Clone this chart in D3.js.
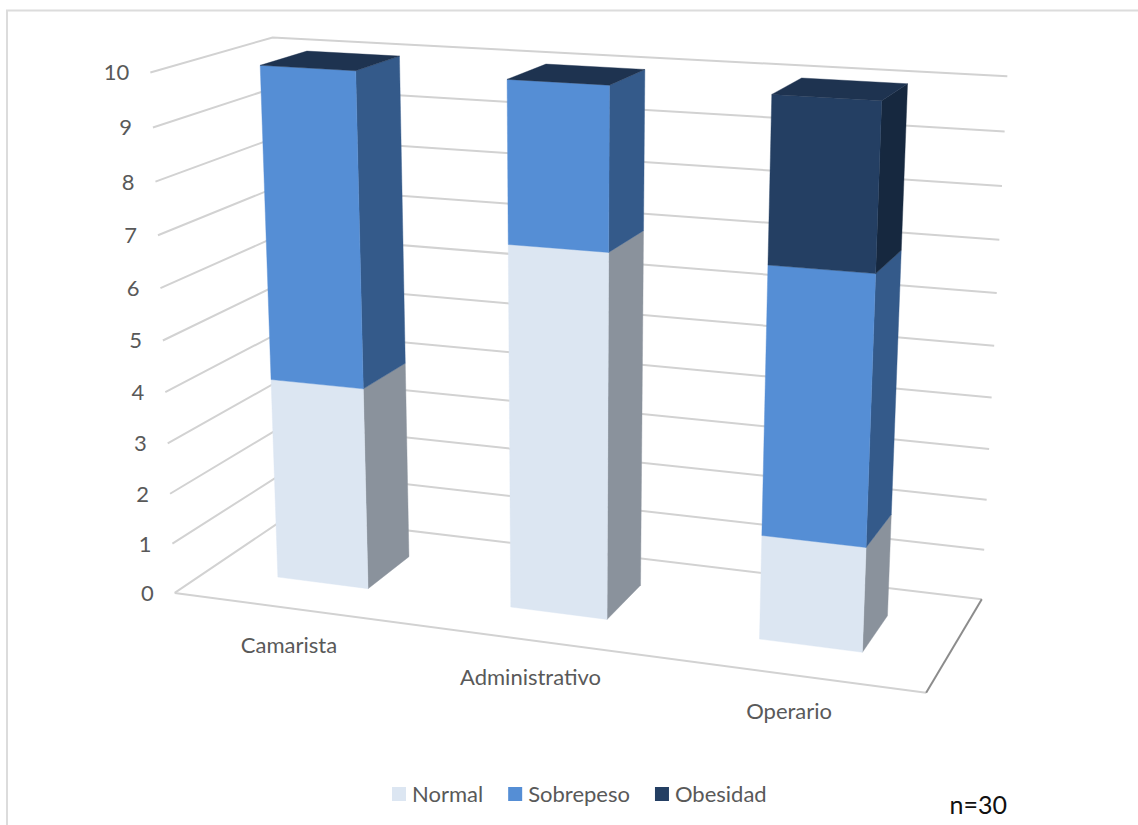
<!DOCTYPE html>
<html>
<head>
<meta charset="utf-8">
<script src="https://cdn.jsdelivr.net/npm/d3@7/dist/d3.min.js"></script>
<style>
html,body{margin:0;padding:0;background:#fff;overflow:hidden}
text{font-family:Lato,"Open Sans",sans-serif}
</style>
</head>
<body>
<svg id="chart" width="1138" height="825"></svg>
<script>
// Chart data
const categories = ["Camarista", "Administrativo", "Operario"];
const seriesNames = ["Normal", "Sobrepeso", "Obesidad"];
const normalValues = [4, 7, 2];
const sobrepesoValues = [6, 3, 5];
const obesidadValues = [0, 0, 3];
const valueTicks = [0, 1, 2, 3, 4, 5, 6, 7, 8, 9, 10];
const sampleNote = "n=30";

const seriesValues = [normalValues, sobrepesoValues, obesidadValues];
const frontColors = ["#dce6f2", "#558ed5", "#243f63"];
const sideColors = ["#8a929c", "#345a8a", "#16283f"];
const topColor = "#1e3350";

const svg = d3.select("#chart");

// Page frame
svg.append("path").attr("d", "M7,825V10.5H1138").attr("fill", "none")
  .attr("stroke", "#dcdcdc").attr("stroke-width", 2);

// Camera: a 3x4 projective matrix solved from where the plot box's corners fall on the page.
// World axes: x across categories, y up, z into the page, each in 0..1.
const boxCorners = [
  [0, 0, 0, 174, 592], [1, 0, 0, 926, 692],
  [0, 0, 1, 289, 517], [1, 0, 1, 982, 600],
  [0, 1, 0, 150, 72],  [1, 1, 0, 952, 122],
  [0, 1, 1, 273, 38],  [1, 1, 1, 1006, 74]
];

function solveCamera(corners) {
  const rows = [], rhs = [];
  corners.forEach(([X, Y, Z, u, v]) => {
    rows.push([X, Y, Z, 1, 0, 0, 0, 0, -u * X, -u * Y, -u * Z]); rhs.push(u);
    rows.push([0, 0, 0, 0, X, Y, Z, 1, -v * X, -v * Y, -v * Z]); rhs.push(v);
  });
  const n = 11;
  const A = d3.range(n).map(i => d3.range(n + 1).map(j =>
    d3.sum(rows, (r, k) => r[i] * (j < n ? r[j] : rhs[k]))));
  for (let c = 0; c < n; c++) {
    let best = c;
    for (let r = c + 1; r < n; r++) if (Math.abs(A[r][c]) > Math.abs(A[best][c])) best = r;
    [A[c], A[best]] = [A[best], A[c]];
    for (let r = 0; r < n; r++) {
      if (r === c) continue;
      const f = A[r][c] / A[c][c];
      for (let j = c; j <= n; j++) A[r][j] -= f * A[c][j];
    }
  }
  return A.map((row, i) => row[n] / row[i]);
}
const cam = solveCamera(boxCorners);
function project(X, Y, Z) {
  const w = cam[8] * X + cam[9] * Y + cam[10] * Z + 1;
  return [(cam[0] * X + cam[1] * Y + cam[2] * Z + cam[3]) / w,
          (cam[4] * X + cam[5] * Y + cam[6] * Z + cam[7]) / w];
}

const xBand = d3.scaleBand().domain(categories).range([-0.001, 0.999]).paddingInner(0.605).paddingOuter(0.3025);
const yValue = d3.scaleLinear().domain([0, 10]).range([0, 1]);
const barDepth = d3.scaleLinear().domain([0, 1]).range([0.3, 0.7]);

const polygon = pts => d3.line()(pts) + "Z";
const gridColor = "#d2d2d2";

// Left and back walls
const grid = svg.append("g").attr("fill", "none").attr("stroke", gridColor).attr("stroke-width", 2);
valueTicks.forEach(t => {
  const y = yValue(t);
  grid.append("path").attr("d", d3.line()([project(0, y, 0), project(0, y, 1), project(1, y, 1)]));
});

// Floor outline
grid.append("path").attr("d", d3.line()([project(0, 0, 0), project(1, 0, 0)]));
svg.append("path").attr("d", d3.line()([project(1, 0, 0), project(1, 0, 1)]))
  .attr("fill", "none").attr("stroke", "#8c8c8c").attr("stroke-width", 2);

// Value labels
svg.append("g").selectAll("text").data(valueTicks).join("text")
  .attr("x", t => project(0, yValue(t), 0)[0] - 21)
  .attr("y", t => project(0, yValue(t), 0)[1])
  .attr("dy", "0.36em")
  .attr("text-anchor", "end")
  .attr("font-size", 22)
  .attr("fill", "#595959")
  .text(d => d);

// Stacked columns, each segment drawn as side face then front face
const bars = svg.append("g");
categories.forEach((cat, i) => {
  const x0 = xBand(cat), x1 = x0 + xBand.bandwidth();
  const z0 = barDepth(0), z1 = barDepth(1);
  let running = 0;
  seriesValues.forEach((vals, s) => {
    const yA = yValue(running), yB = yValue(running + vals[i]);
    running += vals[i];
    if (vals[i] === 0) return;
    bars.append("path")
      .attr("d", polygon([project(x1, yA, z0), project(x1, yA, z1), project(x1, yB, z1), project(x1, yB, z0)]))
      .attr("fill", sideColors[s]).attr("stroke", sideColors[s]).attr("stroke-width", 0.4);
    bars.append("path")
      .attr("d", polygon([project(x0, yA, z0), project(x1, yA, z0), project(x1, yB, z0), project(x0, yB, z0)]))
      .attr("fill", frontColors[s]).attr("stroke", frontColors[s]).attr("stroke-width", 0.4);
  });
  const yT = yValue(running);
  bars.append("path")
    .attr("d", polygon([project(x0, yT, z0), project(x1, yT, z0), project(x1, yT, z1), project(x0, yT, z1)]))
    .attr("fill", topColor).attr("stroke", topColor).attr("stroke-width", 0.4);
});

// Category labels along the front floor edge
svg.append("g").selectAll("text").data(categories).join("text")
  .attr("x", c => project(xBand(c) + xBand.bandwidth() / 2, 0, 0)[0])
  .attr("y", c => project(xBand(c) + xBand.bandwidth() / 2, 0, 0)[1] + 37)
  .attr("dy", "0.36em")
  .attr("text-anchor", "middle")
  .attr("font-size", 22)
  .attr("fill", "#595959")
  .text(d => d);

// Legend laid out left to right from the measured text widths
const legend = svg.append("g").attr("transform", "translate(392,787)");
let cursor = 0;
seriesNames.forEach((name, s) => {
  legend.append("rect").attr("x", cursor).attr("y", 0).attr("width", 14).attr("height", 14)
    .attr("fill", frontColors[s]);
  const label = legend.append("text").attr("x", cursor + 20).attr("y", 7).attr("dy", "0.36em")
    .attr("font-size", 22).attr("fill", "#595959").text(name);
  cursor += 20 + label.node().getComputedTextLength() + 25;
});

// Sample size note
svg.append("text").attr("x", 1007).attr("y", 814).attr("text-anchor", "end")
  .attr("font-size", 25).attr("fill", "#111").text(sampleNote);
</script>
</body>
</html>
